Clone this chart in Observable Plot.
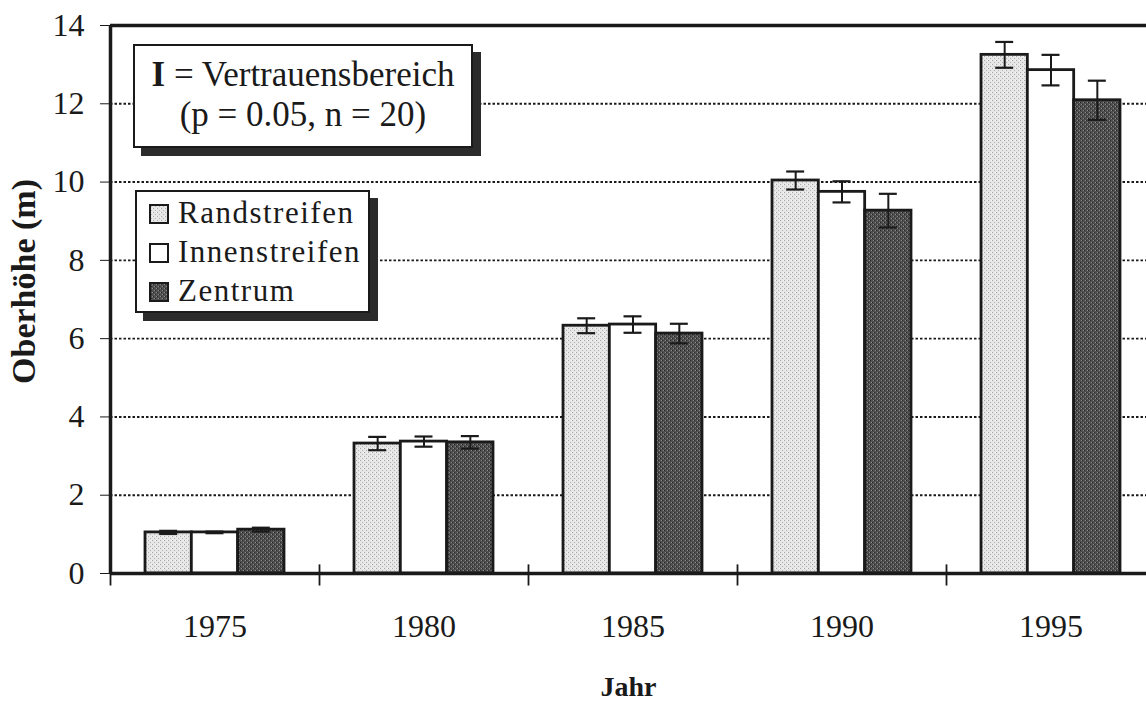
<!DOCTYPE html>
<html>
<head>
<meta charset="utf-8">
<script src="https://cdn.jsdelivr.net/npm/d3@7"></script>
<script src="https://cdn.jsdelivr.net/npm/@observablehq/plot@0.6"></script>
<style>
  html, body { margin: 0; padding: 0; background: #fff; }
  #wrap { position: relative; width: 1146px; height: 701px; overflow: hidden; font-family: "Liberation Serif", serif; color: #1a1a1a; }
  .box { position: absolute; background: #fff; border: 2px solid #1a1a1a; box-shadow: 8px 8px 0 #2b2b2b; box-sizing: border-box; }
  #title { left: 133px; top: 44px; width: 340px; height: 104px; font-size: 35px; line-height: 40px; text-align: center; padding-top: 9px; }
  #legend { left: 135px; top: 190px; width: 235px; height: 123px; font-size: 31px; letter-spacing: 1.5px; line-height: 39px; padding-top: 1px; padding-left: 12px; }
  #legend .row { display: flex; align-items: baseline; white-space: nowrap; }
  #legend svg { width: 20px; height: 20px; margin-right: 9px; flex: none; position: relative; top: 1px; }
</style>
</head>
<body>
<svg width="0" height="0" style="position:absolute">
  <defs>
    <pattern id="pRand" patternUnits="userSpaceOnUse" width="4" height="4">
      <rect width="4" height="4" fill="#e6e6e6"/>
      <rect x="0" y="0" width="1" height="1" fill="#a8a8a8"/>
      <rect x="2" y="2" width="1" height="1" fill="#b4b4b4"/>
      <rect x="3" y="0" width="1" height="1" fill="#f7f7f7"/>
    </pattern>
    <pattern id="pZent" patternUnits="userSpaceOnUse" width="4" height="4">
      <rect width="4" height="4" fill="#4f4f4f"/>
      <rect x="1" y="0" width="1" height="1" fill="#8c8c8c"/>
      <rect x="3" y="2" width="1" height="1" fill="#8c8c8c"/>
      <rect x="0" y="2" width="1" height="1" fill="#262626"/>
      <rect x="2" y="0" width="1" height="1" fill="#262626"/>
    </pattern>
  </defs>
</svg>
<div id="wrap">
  <div id="chart"></div>
  <div id="title" class="box"><div><b>I</b> = Vertrauensbereich</div><div>(p = 0.05, n = 20)</div></div>
  <div id="legend" class="box"></div>
</div>
<script>
// ---- data ----
const years = [1975, 1980, 1985, 1990, 1995];
const series = ["Randstreifen", "Innenstreifen", "Zentrum"];
const randstreifen   = [1.05, 3.32, 6.33, 10.04, 13.25];
const randstreifenCI = [0.04, 0.17, 0.19, 0.23, 0.33];
const innenstreifen   = [1.05, 3.37, 6.36, 9.75, 12.86];
const innenstreifenCI = [0.02, 0.13, 0.21, 0.27, 0.39];
const zentrum   = [1.12, 3.35, 6.13, 9.27, 12.09];
const zentrumCI = [0.05, 0.16, 0.25, 0.43, 0.50];
const yTicks = [0, 2, 4, 6, 8, 10, 12, 14];
const fills = ["url(#pRand)", "#ffffff", "url(#pZent)"];

const values = [randstreifen, innenstreifen, zentrum];
const cis = [randstreifenCI, innenstreifenCI, zentrumCI];
const rows = years.flatMap((year, i) => series.map((s, k) => ({year, series: s, k, value: values[k][i], ci: cis[k][i]})));

const step = 5;                      // years between groups
const groupSpan = step * (1 - 0.335); // bars occupy this part of each group
const bw = groupSpan / 3;
const capHalf = 0.215;
const x1 = d => d.year - groupSpan / 2 + d.k * bw;
const x2 = d => x1(d) + bw;
const xc = d => x1(d) + bw / 2;
const bounds = years.map(y => y - step / 2).concat([years[years.length - 1] + step / 2]);

const ink = "#1a1a1a";
const chart = Plot.plot({
  width: 1146,
  height: 701,
  marginLeft: 110,
  marginRight: 0,
  marginTop: 25,
  marginBottom: 128,
  style: {fontFamily: "Liberation Serif", fontSize: "32px", color: ink, background: "transparent", overflow: "visible"},
  x: {domain: [bounds[0], bounds[bounds.length - 1]], range: [110, 1155], axis: null},
  y: {domain: [0, 14], ticks: yTicks, tickSize: 10, tickPadding: 16, label: null},
  color: {domain: series, range: fills},
  marks: [
    Plot.ruleY(yTicks.filter(t => t > 0 && t < 14), {stroke: ink, strokeWidth: 1.9, strokeDasharray: "2.5,2"}),
    Plot.rectY(rows, {x1, x2, y: "value", fill: "series", stroke: ink, strokeWidth: 2.8}),
    Plot.ruleX(rows, {x: xc, y1: d => d.value - d.ci, y2: d => d.value + d.ci, stroke: ink, strokeWidth: 2}),
    Plot.ruleY(rows, {y: d => d.value + d.ci, x1: d => xc(d) - capHalf, x2: d => xc(d) + capHalf, stroke: ink, strokeWidth: 2.2}),
    Plot.ruleY(rows, {y: d => d.value - d.ci, x1: d => xc(d) - capHalf, x2: d => xc(d) + capHalf, stroke: ink, strokeWidth: 2.2}),
    Plot.ruleY([14], {stroke: ink, strokeWidth: 3.5}),
    Plot.ruleY([0], {stroke: ink, strokeWidth: 3.5}),
    Plot.ruleX([bounds[0]], {stroke: ink, strokeWidth: 3.5}),
    Plot.ruleX(bounds, {y1: -0.32, y2: 0.22, stroke: ink, strokeWidth: 1.8}),
    Plot.text(years, {x: d => d, text: d => String(d), frameAnchor: "bottom", lineAnchor: "middle", dy: 53, fontSize: 32, fill: ink}),
    Plot.text(["Jahr"], {frameAnchor: "bottom", lineAnchor: "middle", dy: 114, fontSize: 28, fontWeight: "bold", fill: ink}),
    Plot.text(["Oberhöhe (m)"], {frameAnchor: "left", textAnchor: "middle", lineAnchor: "middle", rotate: -90, dx: -86, dy: -18, fontSize: 34, fontWeight: "bold", fill: ink})
  ]
});
document.getElementById("chart").appendChild(chart);

// legend inside the plot area
const legend = document.getElementById("legend");
series.forEach((s, k) => {
  const row = document.createElement("div");
  row.className = "row";
  row.innerHTML = `<svg viewBox="0 0 20 20"><rect x="1" y="1" width="18" height="18" fill="${fills[k]}" stroke="${ink}" stroke-width="2"/></svg><span>${s}</span>`;
  legend.appendChild(row);
});
</script>
</body>
</html>
